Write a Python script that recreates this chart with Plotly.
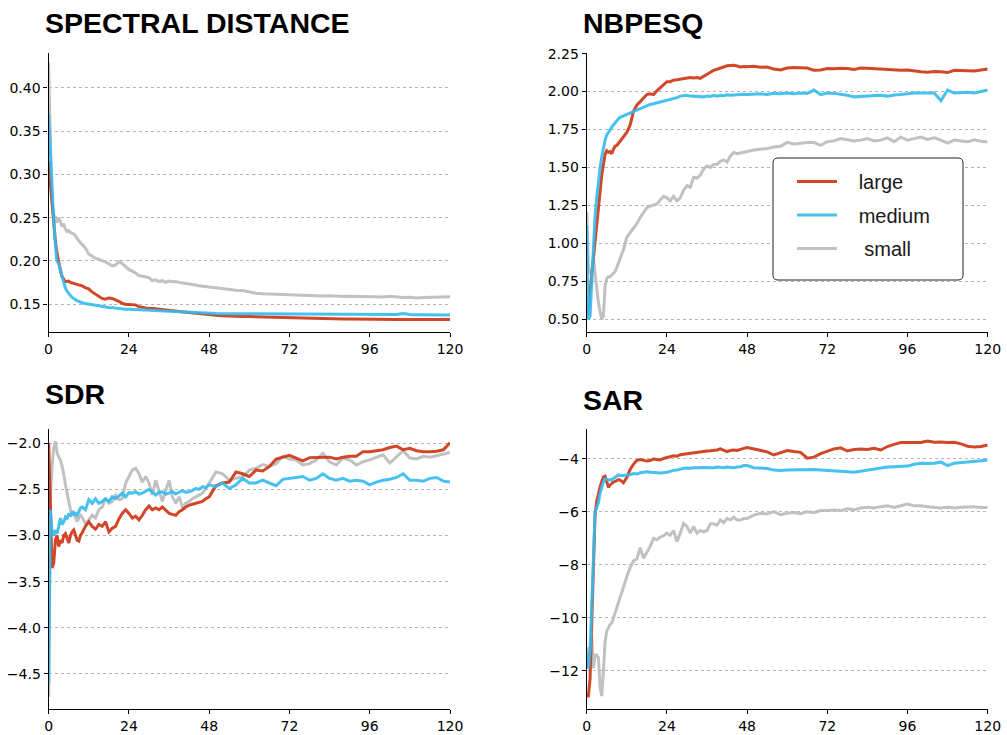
import plotly.graph_objects as go

W, H = 1007, 735

# ---------------- data ----------------
X = [0, 0.5, 1, 1.5, 2, 2.5, 3, 3.5, 4, 4.5, 5, 5.5, 6, 6.5, 7, 7.5, 8, 8.5, 9, 9.5, 10,
     11, 12, 13, 14, 15, 16, 17, 18, 19, 20, 21, 22, 23, 24, 25, 26, 27, 28, 29, 30,
     31, 32, 33, 34, 35, 36, 37, 38, 39, 40, 41, 42, 43, 44, 45, 46, 47, 48,
     50, 52, 54, 56, 58, 60, 62, 64, 66, 68, 70, 72, 74, 76, 78, 80, 82, 84, 86, 88,
     90, 92, 94, 96, 98, 100, 102, 104, 106, 108, 110, 112, 114, 116, 118, 120]

SERIES_NAMES = ["large", "medium", " small"]

SD_LARGE = [0.315, 0.29, 0.268, 0.245, 0.225, 0.21, 0.198, 0.19, 0.182, 0.178, 0.176, 0.176, 0.1765, 0.175, 0.1745, 0.174, 0.173, 0.1725, 0.1725, 0.172, 0.171,
            0.169, 0.1675, 0.164, 0.1615, 0.159, 0.1565, 0.1555, 0.157, 0.1565, 0.155, 0.153, 0.151, 0.1495, 0.1495, 0.1495, 0.149, 0.147, 0.1458, 0.1455, 0.145,
            0.145, 0.1445, 0.144, 0.1435, 0.143, 0.1428, 0.142, 0.1415, 0.141, 0.1408, 0.1403, 0.140, 0.1398, 0.1393, 0.139, 0.1385, 0.138, 0.1377,
            0.137, 0.1365, 0.136, 0.1358, 0.1355, 0.1354, 0.1352, 0.135, 0.1345, 0.134, 0.1338, 0.1335, 0.1333, 0.1332, 0.1333, 0.133, 0.1328, 0.1328,
            0.1327, 0.1326, 0.1327, 0.1325, 0.1324, 0.1323, 0.1322, 0.1323, 0.1322, 0.1321, 0.1322, 0.1321, 0.132, 0.1321, 0.132, 0.132, 0.1321, 0.132]
SD_MEDIUM = [0.37, 0.325, 0.288, 0.252, 0.222, 0.200, 0.197, 0.19, 0.18, 0.174, 0.169, 0.165, 0.162, 0.16, 0.158, 0.156, 0.155, 0.154, 0.153, 0.152, 0.1515,
             0.1505, 0.1498, 0.149, 0.148, 0.1478, 0.147, 0.1466, 0.146, 0.1458, 0.1452, 0.1448, 0.1443, 0.144, 0.1438, 0.1436, 0.1432, 0.143, 0.1428, 0.1425, 0.1422,
             0.1422, 0.142, 0.1418, 0.1416, 0.1414, 0.1413, 0.141, 0.1408, 0.1405, 0.1405, 0.1403, 0.1402, 0.140, 0.1398, 0.1397, 0.1395, 0.1392, 0.139,
             0.1389, 0.1388, 0.1387, 0.1388, 0.1386, 0.1387, 0.1385, 0.1386, 0.1385, 0.1386, 0.1385, 0.1386, 0.1384, 0.1385, 0.1383, 0.1384, 0.1383, 0.1382,
             0.1383, 0.1381, 0.1382, 0.1381, 0.1382, 0.138, 0.1381, 0.1379, 0.138, 0.1379, 0.139, 0.1378, 0.1377, 0.1376, 0.1377, 0.1375, 0.1374, 0.1373]
SD_SMALL = [0.43, 0.33, 0.27, 0.25, 0.252, 0.244, 0.25, 0.246, 0.24, 0.243, 0.237, 0.234, 0.235, 0.233, 0.232, 0.231, 0.229, 0.226, 0.224, 0.221, 0.219,
            0.215, 0.208, 0.205, 0.203, 0.202, 0.200, 0.199, 0.196, 0.194, 0.195, 0.199, 0.197, 0.193, 0.190, 0.188, 0.186, 0.183, 0.182, 0.181, 0.1805,
            0.177, 0.178, 0.176, 0.177, 0.175, 0.1765, 0.1758, 0.176, 0.175, 0.1745, 0.1735, 0.173, 0.1725, 0.172, 0.171, 0.1705, 0.170, 0.1697,
            0.1685, 0.1675, 0.167, 0.166, 0.1655, 0.164, 0.1625, 0.162, 0.1615, 0.1612, 0.161, 0.1608, 0.1605, 0.160, 0.1598, 0.1595, 0.1593, 0.1595,
            0.159, 0.1588, 0.159, 0.1587, 0.1585, 0.1583, 0.1585, 0.1582, 0.159, 0.158, 0.1575, 0.1578, 0.157, 0.1575, 0.1578, 0.1575, 0.158, 0.1585]

NB_LARGE = [0.52, 0.55, 0.68, 0.79, 0.92, 1.05, 1.16, 1.27, 1.36, 1.45, 1.52, 1.585, 1.61, 1.60, 1.605, 1.59, 1.62, 1.64, 1.645, 1.66, 1.675,
            1.70, 1.73, 1.78, 1.87, 1.91, 1.935, 1.955, 1.98, 1.985, 1.98, 2.005, 2.025, 2.045, 2.065, 2.065, 2.075, 2.078, 2.082, 2.086, 2.09,
            2.092, 2.09, 2.092, 2.087, 2.10, 2.118, 2.13, 2.14, 2.147, 2.155, 2.165, 2.17, 2.172, 2.173, 2.168, 2.162, 2.165, 2.163,
            2.167, 2.16, 2.162, 2.148, 2.142, 2.155, 2.158, 2.155, 2.155, 2.14, 2.142, 2.152, 2.15, 2.153, 2.152, 2.145, 2.155, 2.153,
            2.15, 2.147, 2.145, 2.14, 2.14, 2.142, 2.135, 2.13, 2.128, 2.132, 2.13, 2.125, 2.14, 2.138, 2.14, 2.135, 2.142, 2.148]
NB_MEDIUM = [1.12, 0.50, 0.52, 0.75, 1.00, 1.18, 1.30, 1.42, 1.50, 1.57, 1.63, 1.68, 1.715, 1.735, 1.75, 1.765, 1.78, 1.795, 1.81, 1.82, 1.83,
             1.84, 1.848, 1.855, 1.865, 1.875, 1.885, 1.90, 1.91, 1.915, 1.92, 1.925, 1.93, 1.935, 1.94, 1.945, 1.955, 1.96, 1.97, 1.972, 1.975,
             1.97, 1.968, 1.965, 1.963, 1.965, 1.97, 1.968, 1.975, 1.97, 1.975, 1.972, 1.978, 1.975, 1.978, 1.98, 1.978, 1.982, 1.98,
             1.982, 1.985, 1.98, 1.988, 1.985, 1.99, 1.985, 1.99, 1.988, 2.01, 1.98, 1.99, 1.988, 1.982, 1.975, 1.965, 1.968, 1.97,
             1.972, 1.975, 1.97, 1.978, 1.98, 1.985, 1.99, 1.99, 1.992, 1.99, 1.94, 2.01, 1.99, 1.992, 1.995, 1.99, 1.998, 2.01]
NB_SMALL = [1.21, 0.85, 0.80, 0.82, 0.90, 0.80, 0.67, 0.61, 0.55, 0.50, 0.52, 0.72, 0.77, 0.78, 0.78, 0.79, 0.80, 0.815, 0.84, 0.87, 0.90,
            0.96, 1.04, 1.07, 1.10, 1.13, 1.17, 1.20, 1.235, 1.245, 1.25, 1.26, 1.285, 1.31, 1.30, 1.28, 1.31, 1.28, 1.30, 1.35, 1.38,
            1.37, 1.435, 1.43, 1.45, 1.49, 1.51, 1.50, 1.52, 1.52, 1.54, 1.55, 1.535, 1.575, 1.60, 1.59, 1.595, 1.60, 1.61,
            1.615, 1.62, 1.625, 1.635, 1.64, 1.665, 1.655, 1.66, 1.665, 1.665, 1.645, 1.67, 1.675, 1.69, 1.68, 1.675, 1.68, 1.69,
            1.675, 1.68, 1.695, 1.67, 1.70, 1.68, 1.69, 1.70, 1.685, 1.695, 1.68, 1.66, 1.68, 1.675, 1.67, 1.682, 1.672, 1.668]

SDR_LARGE = [-2.0, -2.7, -3.35, -3.3, -3.05, -3.0, -3.12, -3.05, -3.08, -3.0, -2.98, -3.03, -3.08, -3.0, -2.96, -2.94, -3.0, -3.05, -3.06, -3.0, -2.97,
             -2.90, -2.85, -2.90, -2.93, -2.88, -2.90, -2.85, -2.96, -2.92, -2.90, -2.82, -2.76, -2.72, -2.76, -2.81, -2.79, -2.83, -2.78, -2.72, -2.68,
             -2.72, -2.70, -2.72, -2.69, -2.72, -2.76, -2.77, -2.78, -2.74, -2.72, -2.69, -2.67, -2.66, -2.65, -2.64, -2.63, -2.60, -2.58,
             -2.46, -2.43, -2.42, -2.31, -2.33, -2.36, -2.29, -2.30, -2.25, -2.17, -2.15, -2.13, -2.16, -2.19, -2.155, -2.155, -2.15, -2.15,
             -2.17, -2.15, -2.14, -2.14, -2.09, -2.09, -2.08, -2.07, -2.045, -2.03, -2.07, -2.055, -2.08, -2.09, -2.09, -2.085, -2.07, -1.995]
SDR_MEDIUM = [-4.6, -2.72, -2.97, -3.0, -2.94, -2.98, -2.90, -2.81, -2.88, -2.85, -2.80, -2.82, -2.76, -2.79, -2.74, -2.77, -2.76, -2.78, -2.74, -2.70, -2.69,
              -2.72, -2.61, -2.65, -2.60, -2.65, -2.63, -2.60, -2.63, -2.58, -2.60, -2.57, -2.54, -2.58, -2.535, -2.54, -2.525, -2.55, -2.54, -2.52, -2.50,
              -2.53, -2.56, -2.53, -2.525, -2.55, -2.54, -2.52, -2.55, -2.53, -2.515, -2.53, -2.525, -2.51, -2.49, -2.50, -2.47, -2.48, -2.45,
              -2.47, -2.43, -2.49, -2.45, -2.38, -2.43, -2.43, -2.40, -2.43, -2.46, -2.39, -2.38, -2.37, -2.36, -2.40, -2.38, -2.33, -2.38,
              -2.40, -2.38, -2.41, -2.40, -2.41, -2.45, -2.42, -2.40, -2.39, -2.37, -2.33, -2.40, -2.40, -2.41, -2.38, -2.37, -2.41, -2.42]
SDR_SMALL = [-4.75, -2.6, -2.25, -2.05, -1.98, -2.1, -2.15, -2.18, -2.25, -2.33, -2.45, -2.55, -2.65, -2.72, -2.77, -2.75, -2.80, -2.85, -2.81, -2.78, -2.80,
             -2.87, -2.83, -2.78, -2.81, -2.72, -2.69, -2.60, -2.65, -2.63, -2.56, -2.61, -2.60, -2.43, -2.36, -2.29, -2.27, -2.33, -2.42, -2.36, -2.43,
             -2.56, -2.40, -2.51, -2.63, -2.51, -2.40, -2.58, -2.65, -2.58, -2.69, -2.65, -2.63, -2.60, -2.58, -2.56, -2.54, -2.49, -2.43,
             -2.31, -2.33, -2.40, -2.38, -2.36, -2.29, -2.27, -2.23, -2.25, -2.22, -2.14, -2.17, -2.18, -2.235, -2.22, -2.18, -2.11, -2.20,
             -2.235, -2.16, -2.18, -2.235, -2.20, -2.18, -2.15, -2.125, -2.215, -2.15, -2.08, -2.16, -2.17, -2.14, -2.15, -2.135, -2.115, -2.10]

SAR_LARGE = [-12.95, -12.95, -12.3, -10.5, -8.0, -6.1, -5.6, -5.3, -5.05, -4.85, -4.68, -4.65, -4.9, -5.07, -4.98, -4.92, -4.87, -4.85, -4.8, -4.78, -4.8,
             -4.9, -4.7, -4.4, -4.2, -4.05, -4.02, -4.05, -4.08, -4.06, -4.0, -4.02, -4.04, -3.98, -3.95, -3.92, -3.88, -3.9, -3.84, -3.82, -3.8,
             -3.78, -3.77, -3.75, -3.72, -3.72, -3.7, -3.69, -3.68, -3.66, -3.62, -3.68, -3.72, -3.68, -3.66, -3.68, -3.63, -3.6, -3.57,
             -3.63, -3.68, -3.73, -3.85, -3.75, -3.68, -3.72, -3.75, -3.97, -3.93, -3.8, -3.72, -3.62, -3.58, -3.7, -3.64, -3.62, -3.64,
             -3.6, -3.66, -3.53, -3.45, -3.38, -3.38, -3.37, -3.38, -3.32, -3.37, -3.36, -3.38, -3.37, -3.43, -3.52, -3.55, -3.53, -3.47]
SAR_MEDIUM = [-11.3, -11.9, -11.3, -9.8, -7.8, -6.0, -5.85, -5.65, -5.3, -5.05, -4.85, -4.75, -4.78, -4.8, -4.78, -4.8, -4.73, -4.7, -4.65, -4.6, -4.62,
              -4.62, -4.6, -4.6, -4.55, -4.57, -4.52, -4.5, -4.48, -4.5, -4.5, -4.52, -4.53, -4.52, -4.5, -4.47, -4.43, -4.42, -4.38, -4.35, -4.34,
              -4.35, -4.33, -4.34, -4.33, -4.32, -4.33, -4.34, -4.33, -4.3, -4.32, -4.33, -4.3, -4.32, -4.33, -4.3, -4.29, -4.25, -4.25,
              -4.33, -4.35, -4.36, -4.42, -4.44, -4.42, -4.41, -4.4, -4.41, -4.4, -4.42, -4.43, -4.44, -4.45, -4.48, -4.5, -4.46, -4.42,
              -4.38, -4.35, -4.3, -4.29, -4.28, -4.27, -4.2, -4.16, -4.17, -4.16, -4.12, -4.25, -4.16, -4.14, -4.13, -4.1, -4.07, -4.04]
SAR_SMALL = [-11.1, -11.9, -11.1, -10.7, -11.9, -11.4, -11.4, -11.5, -12.6, -12.95, -12.0, -10.9, -10.5, -10.35, -10.25, -10.2, -10.0, -9.85, -9.65, -9.4, -9.2,
             -8.85, -8.45, -8.1, -7.85, -7.78, -7.35, -7.75, -7.55, -7.3, -7.0, -7.05, -6.95, -6.9, -6.8, -6.88, -6.7, -7.12, -6.8, -6.43, -6.55,
             -6.8, -6.55, -6.8, -6.7, -6.75, -6.7, -6.45, -6.45, -6.5, -6.3, -6.4, -6.25, -6.3, -6.2, -6.3, -6.3, -6.25, -6.25,
             -6.12, -6.05, -6.08, -5.99, -6.1, -6.05, -6.02, -6.07, -5.99, -6.03, -5.95, -5.95, -5.93, -5.95, -5.88, -5.92, -5.85, -5.82,
             -5.85, -5.8, -5.77, -5.83, -5.77, -5.7, -5.77, -5.77, -5.8, -5.83, -5.85, -5.82, -5.85, -5.82, -5.8, -5.8, -5.83, -5.83]

X_TICKS = [0, 24, 48, 72, 96, 120]
SD_TICKS = [0.15, 0.20, 0.25, 0.30, 0.35, 0.40]
NB_TICKS = [0.50, 0.75, 1.00, 1.25, 1.50, 1.75, 2.00, 2.25]
SDR_TICKS = [-4.5, -4.0, -3.5, -3.0, -2.5, -2.0]
SAR_TICKS = [-12, -10, -8, -6, -4]

for s in [SD_LARGE, SD_MEDIUM, SD_SMALL, NB_LARGE, NB_MEDIUM, NB_SMALL,
          SDR_LARGE, SDR_MEDIUM, SDR_SMALL, SAR_LARGE, SAR_MEDIUM, SAR_SMALL]:
    assert len(s) == len(X), len(s)

# ---------------- styling / layout ----------------
COLORS = ["#CC3311", "#33BBEE", "#BBBBBB"]


def px(x):
    return x / W


def py(y):
    return 1 - y / H


panels = [
    dict(title="SPECTRAL DISTANCE", data=(SD_LARGE, SD_MEDIUM, SD_SMALL), yr=[0.1176, 0.4405],
         ticks=SD_TICKS, fmt=".2f", box=(48.5, 53, 450, 332), tpos=(43, 23)),
    dict(title="NBPESQ", data=(NB_LARGE, NB_MEDIUM, NB_SMALL), yr=[0.416, 2.254],
         ticks=NB_TICKS, fmt=".2f", box=(586.7, 53, 987.7, 332), tpos=(581, 23)),
    dict(title="SDR", data=(SDR_LARGE, SDR_MEDIUM, SDR_SMALL), yr=[-4.883, -1.848],
         ticks=SDR_TICKS, fmt=".1f", box=(48.7, 429.3, 450, 709.3), tpos=(43, 394)),
    dict(title="SAR", data=(SAR_LARGE, SAR_MEDIUM, SAR_SMALL), yr=[-13.45, -2.88],
         ticks=SAR_TICKS, fmt="d", box=(586.7, 429.3, 987.7, 709.3), tpos=(581, 399.5)),
]

fig = go.Figure()
layout = dict(width=W, height=H, margin=dict(l=0, r=0, t=0, b=0, autoexpand=False),
              paper_bgcolor="white", plot_bgcolor="white", annotations=[], shapes=[])

tickfont = dict(family="DejaVu Sans", size=14, color="black")

for i, p in enumerate(panels, start=1):
    xa = "x" if i == 1 else f"x{i}"
    ya = "y" if i == 1 else f"y{i}"
    x0, y0, x1, y1 = p["box"]
    layout[f"xaxis{'' if i == 1 else i}"] = dict(
        domain=[px(x0), px(x1)], anchor=ya, range=[0, 120], tickvals=X_TICKS, automargin=False,
        showline=True, linecolor="black", linewidth=1.2, ticks="outside", ticklen=4,
        tickwidth=1.2, tickcolor="black", showgrid=False, zeroline=False, tickfont=tickfont)
    layout[f"yaxis{'' if i == 1 else i}"] = dict(
        domain=[py(y1), py(y0)], anchor=xa, range=p["yr"], tickvals=p["ticks"], tickformat=p["fmt"],
        automargin=False,
        showline=True, linecolor="black", linewidth=1.2, ticks="outside", ticklen=4,
        tickwidth=1.2, tickcolor="black", showgrid=True, gridcolor="#b5b5b5", griddash="dot",
        gridwidth=1, zeroline=False, tickfont=tickfont)
    # draw order: small, large, medium
    for k in [2, 0, 1]:
        fig.add_trace(go.Scatter(
            x=X, y=p["data"][k], mode="lines", xaxis=xa, yaxis=ya,
            name="\u00a0\u00a0\u00a0" + SERIES_NAMES[k].replace(" ", "\u00a0"),
            legendgroup=SERIES_NAMES[k], legendrank=k + 1, showlegend=(i == 2),
            line=dict(color=COLORS[k], width=3), opacity=0.9))
    layout["annotations"].append(dict(
        text=f"<b>{p['title']}</b>", x=px(p["tpos"][0]), y=py(p["tpos"][1]), xref="paper", yref="paper",
        xanchor="left", yanchor="middle", showarrow=False,
        font=dict(family="Liberation Sans, Arial, sans-serif", size=28.5, color="black")))

# rounded legend frame
lx0, ly0, lx1, ly1, r = 773, 158, 963, 280, 5
rx, ry = r / W, r / H
X0, X1, Y0, Y1 = px(lx0), px(lx1), py(ly0), py(ly1)
path = (f"M{X0 + rx},{Y0} L{X1 - rx},{Y0} Q{X1},{Y0} {X1},{Y0 - ry} "
        f"L{X1},{Y1 + ry} Q{X1},{Y1} {X1 - rx},{Y1} L{X0 + rx},{Y1} Q{X0},{Y1} {X0},{Y1 + ry} "
        f"L{X0},{Y0 - ry} Q{X0},{Y0} {X0 + rx},{Y0} Z")
layout["shapes"].append(dict(type="path", path=path, xref="paper", yref="paper",
                             line=dict(color="#222222", width=1), fillcolor="white", layer="above"))

layout["legend"] = dict(x=px(792), y=py(162), xanchor="left", yanchor="top",
                        bgcolor="rgba(0,0,0,0)", borderwidth=0, itemwidth=40,
                        tracegroupgap=4.5,
                        font=dict(family="Liberation Sans, Arial, sans-serif", size=20, color="#1a1a1a"))
layout["showlegend"] = True

fig.update_layout(**layout)
fig.write_html("out.html", config={"displayModeBar": False},
               post_script="document.body.style.margin='0';document.body.style.overflow='hidden';")
